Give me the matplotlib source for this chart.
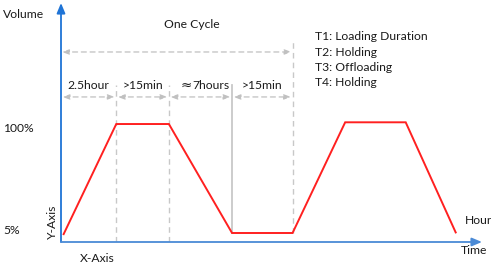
"""Esquema de un ciclo de carga/descarga: volumen vs tiempo."""
import matplotlib
matplotlib.use("Agg")
import matplotlib.pyplot as plt

plt.rcParams["font.family"] = ["Lato", "DejaVu Sans"]

# === Datos (tiempo en unidades esquematicas, volumen en %) ===
TIEMPOS = [0.05, 1.05, 2.05, 3.25, 4.4, 5.4, 6.55, 7.5]
VOLUMEN = [4, 100, 100, 5, 5, 101.5, 101.5, 5.5]
LIMITES = [0.0, 1.05, 2.05, 3.25, 4.4]            # bordes de T1..T4
ETIQUETAS_T = ["2.5hour", ">15min", "\u22487hours", ">15min"]
LEYENDA = ["T1: Loading Duration", "T2: Holding", "T3: Offloading", "T4: Holding"]
NIVELES = ["100%", "5%"]
NIVELES_Y = [100, 5]

ROJO = "#ff2020"
GRIS = "#c8c8c8"
TXT = "#1a1a1a"
FS = 8.7

W, H = 491, 264
fig = plt.figure(figsize=(W / 100, H / 100), dpi=100)
ax = fig.add_axes([61 / W, 22 / H, 421 / W, 239 / H])
ax.set_xlim(0, 8)
ax.set_ylim(-2.85, 205.5)
ax.axis("off")

# ejes con flecha
ax.annotate("", xy=(0, 205.5), xytext=(0, -2.85),
            arrowprops=dict(arrowstyle="-|>,head_length=0.6,head_width=0.25",
                            color="#1f74d6", lw=1.3, shrinkA=0, shrinkB=0))
ax.annotate("", xy=(8, -2.85), xytext=(0, -2.85),
            arrowprops=dict(arrowstyle="-|>,head_length=0.6,head_width=0.25",
                            color="#4a8ad6", lw=1.3, shrinkA=0, shrinkB=0))

# lineas verticales de los limites
ax.plot([LIMITES[1]] * 2, [-2.85, 134], color=GRIS, lw=1, ls=(0, (4, 3)))
ax.plot([LIMITES[2]] * 2, [-2.85, 134], color=GRIS, lw=1, ls=(0, (4, 3)))
ax.plot([LIMITES[3]] * 2, [5, 134], color=GRIS, lw=1.3)
ax.plot([LIMITES[4]] * 2, [5, 173], color=GRIS, lw=1, ls=(0, (4, 3)))

# flechas de duracion
def flecha(x0, x1, y):
    ax.annotate("", xy=(x1, y), xytext=(x0, y),
                arrowprops=dict(arrowstyle="<|-|>,head_length=0.4,head_width=0.15",
                                color="#c0c0c0", lw=0.9, ls=(0, (4, 3)),
                                shrinkA=0, shrinkB=0))

flecha(0.02, LIMITES[4] - 0.02, 162.8)
for a, b, t in zip(LIMITES[:-1], LIMITES[1:], ETIQUETAS_T):
    flecha(a + 0.03, b - 0.03, 123.6)
    c = (a + b) / 2
    if t.startswith("\u2248"):
        # el simbolo en DejaVu (mas ancho), el resto en Lato
        corte = c - 0.17
        ax.text(corte + 0.01, 134, t[0], ha="right", va="center",
                fontsize=FS + 1, color=TXT, family=["DejaVu Sans"])
        ax.text(corte + 0.01, 134, t[1:], ha="left", va="center",
                fontsize=FS, color=TXT)
    else:
        ax.text(c, 134, t, ha="center", va="center", fontsize=FS, color=TXT)

ax.text(2.48, 187, "One Cycle", ha="center", va="center", fontsize=FS, color=TXT)

# curva de volumen
ax.plot(TIEMPOS, VOLUMEN, color=ROJO, lw=1.4, solid_joinstyle="miter")

# textos sueltos en pixeles de figura
def txt(x, y, s, **kw):
    fig.text(x / W, 1 - y / H, s, va="center", fontsize=FS, color=TXT, **kw)

txt(3, 15, "Volume")
for s, v in zip(NIVELES, NIVELES_Y):
    yp = 233 - (v - 5) * 109 / 95
    txt(3, yp + 4 if v == 100 else yp - 2, s)
txt(52, 222, "Y-Axis", rotation=90, ha="center")
txt(80, 258, "X-Axis")
txt(465, 221, "Hour")
txt(461, 251, "Time")
for i, s in enumerate(LEYENDA):
    txt(315, 37 + i * 15.2, s)

fig.savefig("out.png", dpi=100)
